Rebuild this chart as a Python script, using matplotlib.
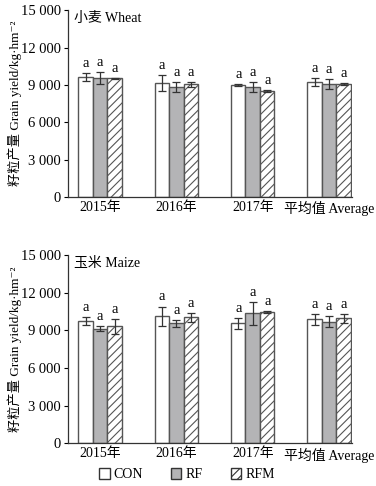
import numpy as np
import matplotlib
matplotlib.use("Agg")
import matplotlib.pyplot as plt
from matplotlib.patches import Patch

plt.rcParams['font.family'] = ['Liberation Serif', 'Noto Sans CJK SC', 'DejaVu Serif']
plt.rcParams['hatch.linewidth'] = 0.8

groups = ['2015年', '2016年', '2017年', '平均值 Average']
treatments = ['CON', 'RF', 'RFM']

wheat_mean = [[9630, 9150, 8970, 9230],
              [9550, 8830, 8830, 9070],
              [9520, 9050, 8490, 9050]]
wheat_err = [[300, 650, 100, 300],
             [500, 400, 400, 400],
             [50, 200, 80, 80]]

maize_mean = [[9760, 10130, 9550, 9870],
              [9120, 9550, 10350, 9680],
              [9330, 10030, 10450, 9950]]
maize_err = [[300, 770, 400, 450],
             [200, 300, 900, 450],
             [600, 330, 70, 350]]

letters = 'a'

fills = ['white', '#b4b4b6', 'white']
hatches = [None, None, '////']
edge = '#555555'

fig = plt.figure(figsize=(3.76, 4.86), dpi=100)
ax1 = fig.add_axes([0.181, 0.595, 0.755, 0.384])
ax2 = fig.add_axes([0.181, 0.088, 0.755, 0.387])

x = np.arange(len(groups))
w = 0.19

def draw(ax, means, errs, title):
    for i in range(3):
        pos = x + (i - 1) * w
        ax.bar(pos, means[i], w, color=fills[i], edgecolor=edge, hatch=hatches[i],
               linewidth=1.0, yerr=errs[i], capsize=3,
               error_kw=dict(ecolor='#333333', elinewidth=0.9, capthick=0.9))
        for p, m, e in zip(pos, means[i], errs[i]):
            ax.text(p, m + e + 250, letters, ha='center', va='bottom', fontsize=10.5)
    ax.set_xlim(-0.42, 3.3)
    ax.set_ylim(0, 15000)
    ax.set_yticks(np.arange(0, 15001, 3000))
    ax.set_yticklabels(['0', '3 000', '6 000', '9 000', '12 000', '15 000'], fontsize=10.5)
    ax.set_xticks(x)
    ax.set_xticklabels(groups, fontsize=10)
    ax.tick_params(axis='x', length=0, pad=3)
    ax.tick_params(axis='y', length=3, direction='out', pad=2)
    for s in ['top', 'right']:
        ax.spines[s].set_visible(False)
    for s in ['left', 'bottom']:
        ax.spines[s].set_color('#333333')
        ax.spines[s].set_linewidth(0.9)
    ax.text(0.02, 0.99, title, transform=ax.transAxes, ha='left', va='top', fontsize=10)
    ax.set_ylabel('籽粒产量 Grain yield/kg·hm⁻²', fontsize=9.5)
    ax.yaxis.set_label_coords(-0.163, 0.5)

draw(ax1, wheat_mean, wheat_err, '小麦 Wheat')
draw(ax2, maize_mean, maize_err, '玉米 Maize')

handles = [Patch(facecolor=fills[i], edgecolor='#333333', hatch=hatches[i], label=treatments[i])
           for i in range(3)]
fig.legend(handles=handles, loc='center', bbox_to_anchor=(0.497, 0.023), ncol=3, frameon=False,
           fontsize=10, handlelength=0.75, handleheight=0.75, columnspacing=2.0, handletextpad=0.3)

fig.savefig('out.png', dpi=100)
